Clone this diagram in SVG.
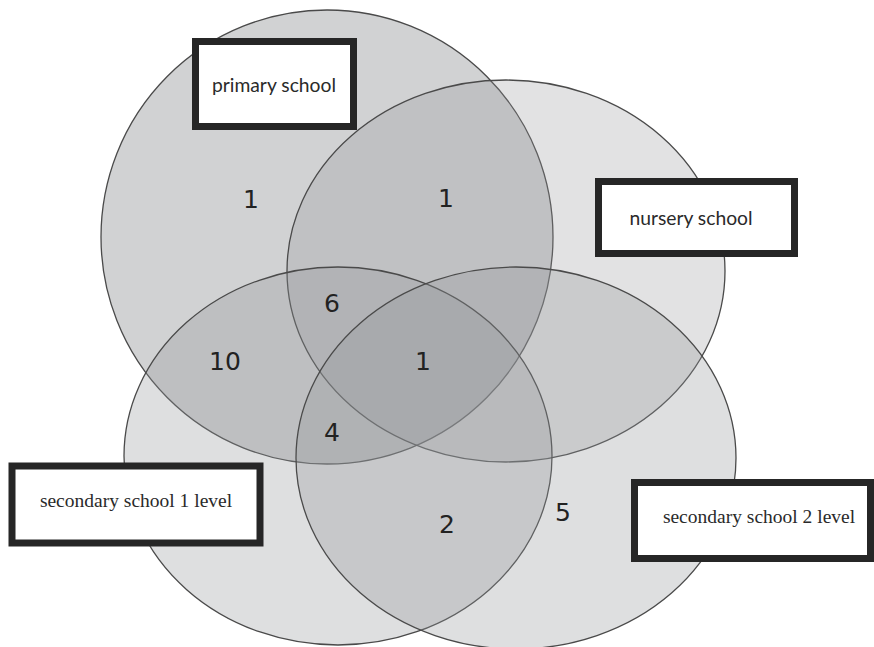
<svg xmlns="http://www.w3.org/2000/svg" width="874" height="647" viewBox="0 0 874 647">
<style>
.set{fill:#929497;stroke:#4a4a4a;stroke-width:1.3}
.box{fill:#ffffff;stroke:#262626;stroke-width:7}
.lbl{font-family:"Lato","Open Sans","Noto Sans",sans-serif;font-size:19.3px;fill:#2a2a2a;text-anchor:middle}
.lbls{font-family:"Liberation Serif","Times New Roman",serif;font-size:19.5px;fill:#2a2a2a;text-anchor:middle}
.num{font-family:"DejaVu Sans",sans-serif;font-size:25px;fill:#222;text-anchor:middle}
</style>
<rect width="874" height="647" fill="#ffffff"/>
<g id="set-primary"><ellipse class="set" cx="327" cy="237" rx="226" ry="227" fill-opacity="0.42"/></g>
<g id="set-nursery"><ellipse class="set" cx="506" cy="271" rx="219" ry="191" fill-opacity="0.27"/></g>
<g id="set-secondary1"><ellipse class="set" cx="338" cy="456" rx="214" ry="189" fill-opacity="0.3"/></g>
<g id="set-secondary2"><ellipse class="set" cx="516" cy="458" rx="220" ry="191" fill-opacity="0.3"/></g>
<g id="counts">
<text class="num" x="251" y="208">1</text>
<text class="num" x="446" y="207">1</text>
<text class="num" x="332" y="312">6</text>
<text class="num" x="225" y="370">10</text>
<text class="num" x="423" y="370">1</text>
<text class="num" x="332" y="441">4</text>
<text class="num" x="447" y="533">2</text>
<text class="num" x="563" y="521">5</text>
</g>
<g id="label-primary"><rect class="box" x="195.5" y="41.5" width="158" height="85"/><text class="lbl" x="274" y="92">primary school</text></g>
<g id="label-nursery"><rect class="box" x="598.5" y="181.5" width="196" height="72"/><text class="lbl" x="691" y="225">nursery school</text></g>
<g id="label-secondary1"><rect class="box" x="12" y="466" width="248" height="77"/><text class="lbls" x="136" y="507">secondary school 1 level</text></g>
<g id="label-secondary2"><rect class="box" x="634.5" y="482.5" width="236" height="76"/><text class="lbls" x="759" y="523">secondary school 2 level</text></g>
</svg>
